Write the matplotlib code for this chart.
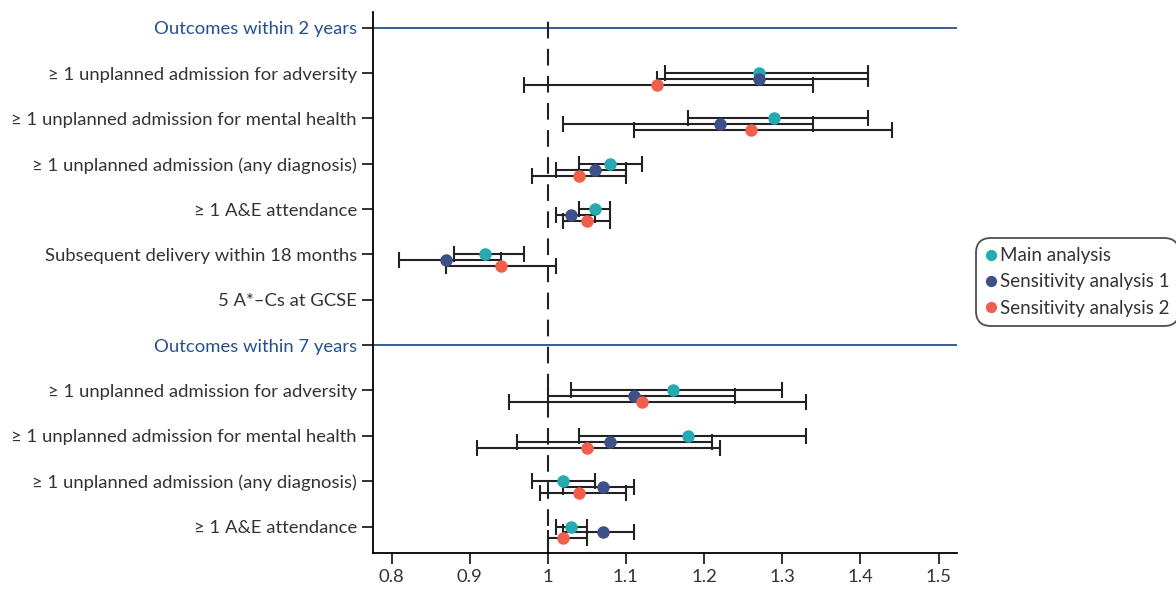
import matplotlib.pyplot as plt
import numpy as np

plt.rcParams['font.family'] = ['Lato', 'DejaVu Sans']

# row labels, top to bottom
labels = ['Outcomes within 2 years',
          '≥ 1 unplanned admission for adversity',
          '≥ 1 unplanned admission for mental health',
          '≥ 1 unplanned admission (any diagnosis)',
          '≥ 1 A&E attendance',
          'Subsequent delivery within 18 months',
          '5 A*–Cs at GCSE',
          'Outcomes within 7 years',
          '≥ 1 unplanned admission for adversity',
          '≥ 1 unplanned admission for mental health',
          '≥ 1 unplanned admission (any diagnosis)',
          '≥ 1 A&E attendance']
header_rows = [0, 7]

nan = np.nan
# estimate, lower CI, upper CI per row (nan = no estimate)
main_est = [nan, 1.27, 1.29, 1.08, 1.06, 0.92, nan, nan, 1.16, 1.18, 1.02, 1.03]
main_lo = [nan, 1.15, 1.18, 1.04, 1.04, 0.88, nan, nan, 1.03, 1.04, 0.98, 1.01]
main_hi = [nan, 1.41, 1.41, 1.12, 1.08, 0.97, nan, nan, 1.30, 1.33, 1.06, 1.05]

sens1_est = [nan, 1.27, 1.22, 1.06, 1.03, 0.87, nan, nan, 1.11, 1.08, 1.07, 1.07]
sens1_lo = [nan, 1.14, 1.02, 1.01, 1.01, 0.81, nan, nan, 1.00, 0.96, 1.02, 1.02]
sens1_hi = [nan, 1.41, 1.34, 1.10, 1.06, 0.94, nan, nan, 1.24, 1.21, 1.11, 1.11]

sens2_est = [nan, 1.14, 1.26, 1.04, 1.05, 0.94, nan, nan, 1.12, 1.05, 1.04, 1.02]
sens2_lo = [nan, 0.97, 1.11, 0.98, 1.02, 0.87, nan, nan, 0.95, 0.91, 0.99, 1.00]
sens2_hi = [nan, 1.34, 1.44, 1.10, 1.08, 1.01, nan, nan, 1.33, 1.22, 1.10, 1.05]

series = [('Main analysis', main_est, main_lo, main_hi, '#26a9b0'),
          ('Sensitivity analysis 1', sens1_est, sens1_lo, sens1_hi, '#3d5088'),
          ('Sensitivity analysis 2', sens2_est, sens2_lo, sens2_hi, '#ef5f4b')]

header_col = '#24508f'
fs = 13.3

fig = plt.figure(figsize=(11.76, 5.9), dpi=100)
ax = fig.add_axes([0.317, 0.063, 0.497, 0.917])

y = np.arange(len(labels))
offsets = [0, 0.13, 0.26]

for (name, est, lo, hi, col), off in zip(series, offsets):
    est = np.array(est)
    lo = np.array(lo)
    hi = np.array(hi)
    yy = y + off
    ok = ~np.isnan(est)
    ax.errorbar(est[ok], yy[ok], xerr=[est[ok] - lo[ok], hi[ok] - est[ok]],
                fmt='none', ecolor='#222222', elinewidth=1.5, capsize=6,
                capthick=1.5, zorder=2)
    ax.plot(est[ok], yy[ok], 'o', color=col, markersize=9, zorder=3,
            label=name, markeredgewidth=0)

for r in header_rows:
    ax.axhline(r, color=header_col, lw=1.3, zorder=1)

ax.axvline(1, color='#222222', lw=1.5, ls=(0, (8, 5)), zorder=1)

ax.set_yticks(y)
ax.set_yticklabels(labels, fontsize=fs, color='#333333')
for r in header_rows:
    ax.get_yticklabels()[r].set_color(header_col)
ax.set_ylim(11.58, -0.35)
ax.set_xlim(0.776, 1.524)
ax.set_xticks([0.8, 0.9, 1, 1.1, 1.2, 1.3, 1.4, 1.5])
ax.set_xticklabels(['0.8', '0.9', '1', '1.1', '1.2', '1.3', '1.4', '1.5'],
                   fontsize=fs, color='#333333')

ax.spines['top'].set_visible(False)
ax.spines['right'].set_visible(False)
ax.spines['left'].set_linewidth(1.3)
ax.spines['bottom'].set_linewidth(1.3)
ax.tick_params(length=8, width=1.3, color='#222222')

leg = ax.legend(loc='center left', bbox_to_anchor=(976 / 1176, 1 - 282 / 590),
                bbox_transform=fig.transFigure, fontsize=13.5, frameon=True,
                handletextpad=0.2, handlelength=0.6, borderpad=0.5,
                labelspacing=0.5, fancybox=True, markerscale=0.9,
                borderaxespad=0)
leg.get_frame().set_edgecolor('#222222')
leg.get_frame().set_linewidth(1.3)
leg.get_frame().set_boxstyle('round', pad=0, rounding_size=0.8)
for t in leg.get_texts():
    t.set_color('#333333')

plt.savefig('out.png', dpi=100)
